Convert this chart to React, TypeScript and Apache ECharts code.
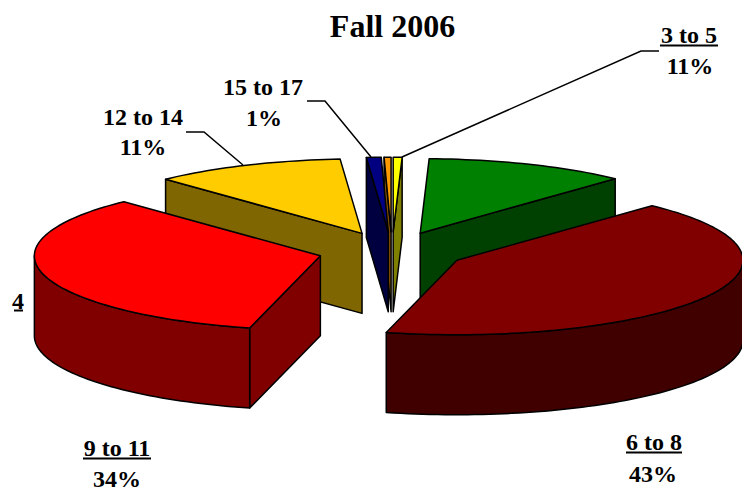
import React, { useEffect, useRef } from "react";
import * as echarts from "echarts";

// Slice shares (percent of the circle), clockwise from the top of the pie
const sliceShares = [0.5, 11.44, 42.03, 33.97, 10.83, 0.83, 0.39];
const topColors = ["#ffff00", "#008000", "#800000", "#ff0000", "#ffcc00", "#000080", "#ff9900"];
const sideColors = ["#808000", "#004000", "#400000", "#800000", "#806600", "#000040", "#804c00"];

const titleText = "Fall 2006";
const labelNames = ["3 to 5", "6 to 8", "9 to 11", "12 to 14", "15 to 17"];
const labelPercents = ["11%", "43%", "34%", "11%", "1%"];
const strayLabel = "4";

const SERIF = '"Liberation Serif", "Times New Roman", serif';
const RX = 286;
const RY = 74.5;
const DEPTH = 80;
const CX = 392;
const CY = 251;
const EXPLODE = 74;

const rad = (d: number) => (d * Math.PI) / 180;
const centerOf = (mid: number) => ({
  x: CX + EXPLODE * Math.sin(rad(mid)),
  y: CY - EXPLODE * (RY / RX) * Math.cos(rad(mid)),
});

function buildRows() {
  const total = sliceShares.reduce((a, b) => a + b, 0);
  let acc = 0;
  const rows = sliceShares.map((v, i) => {
    const start = (acc / total) * 360;
    acc += v;
    const end = (acc / total) * 360;
    return [start, end, i];
  });
  // Painter's order: back slices first
  return rows.sort(
    (a, b) => centerOf((a[0] + a[1]) / 2).y - centerOf((b[0] + b[1]) / 2).y
  );
}

function renderSlice(_params: any, api: any) {
  const start = api.value(0) as number;
  const end = api.value(1) as number;
  const idx = api.value(2) as number;
  const c = centerOf((start + end) / 2);
  const pt = (t: number, dz = 0): number[] => [
    c.x + RX * Math.sin(rad(t)),
    c.y - RY * Math.cos(rad(t)) + dz,
  ];
  const arc = (a: number, b: number, dz = 0) => {
    const n = Math.max(2, Math.ceil(Math.abs(b - a) / 1.5));
    const out: number[][] = [];
    for (let k = 0; k <= n; k++) out.push(pt(a + ((b - a) * k) / n, dz));
    return out;
  };
  const edgeStyle = { stroke: "#000", lineWidth: 1.5, lineJoin: "round" };
  const side = { ...edgeStyle, fill: sideColors[idx] };
  const poly = (points: number[][], style: any) => ({
    type: "polygon",
    shape: { points },
    style,
  });
  const children: any[] = [];
  const apex = [c.x, c.y];
  const apexLow = [c.x, c.y + DEPTH];
  const wall = (t: number) =>
    poly([apex, pt(t), pt(t, DEPTH), apexLow], side);
  if (Math.sin(rad(start)) < 0) children.push(wall(start));
  if (Math.sin(rad(end)) > 0) children.push(wall(end));
  const a = Math.max(start, 90);
  const b = Math.min(end, 270);
  if (b > a) {
    children.push(poly([...arc(a, b), ...arc(b, a, DEPTH)], side));
  }
  children.push(
    poly([apex, ...arc(start, end)], { ...edgeStyle, fill: topColors[idx] })
  );
  return { type: "group", children };
}

function textEl(text: string, x: number, baseline: number) {
  return {
    type: "text",
    x,
    y: baseline - 8,
    style: {
      text,
      fill: "#000",
      font: `bold 24px ${SERIF}`,
      lineHeight: 20,
      align: "center",
      verticalAlign: "middle",
    },
    z: 10,
  };
}
function under(x1: number, x2: number, y: number) {
  return {
    type: "line",
    shape: { x1, y1: y, x2, y2: y },
    style: { stroke: "#000", lineWidth: 2 },
    z: 10,
  };
}
function leader(points: number[][]) {
  return {
    type: "polyline",
    shape: { points },
    style: { stroke: "#000", lineWidth: 1.5, fill: "none" },
    z: 10,
  };
}

export default function App() {
  const ref = useRef<HTMLDivElement>(null);
  useEffect(() => {
    document.body.style.margin = "0";
    const chart = echarts.init(ref.current!, undefined, { renderer: "svg" });
    chart.setOption({
      animation: false,
      backgroundColor: "#fff",
      title: {
        text: titleText,
        left: 387.5,
        top: 5,
        textAlign: "center",
        textStyle: { fontFamily: SERIF, fontWeight: "bold", fontSize: 32, color: "#000" },
      },
      series: [
        {
          type: "custom",
          coordinateSystem: "none",
          silent: true,
          renderItem: renderSlice,
          data: buildRows(),
        },
      ],
      graphic: {
        elements: [
          textEl(labelNames[0], 689, 43),
          under(660, 718, 45.5),
          textEl(labelPercents[0], 690, 74),
          leader([[402, 157], [641, 51], [659, 51]]),
          textEl(labelNames[1], 654, 450),
          under(626, 682, 452.5),
          textEl(labelPercents[1], 653, 482),
          textEl(labelNames[2], 117, 456),
          under(83, 151, 458.5),
          textEl(labelPercents[2], 117, 487),
          textEl(labelNames[3], 143, 125),
          textEl(labelPercents[3], 143, 155),
          leader([[186, 132], [204, 132], [243, 165]]),
          textEl(labelNames[4], 263, 95),
          textEl(labelPercents[4], 264, 126),
          leader([[307, 101], [325, 101], [371, 157]]),
          textEl(strayLabel, 18, 309),
          under(14, 23, 310.5),
        ],
      },
    });
    return () => chart.dispose();
  }, []);
  return (
    <div
      ref={ref}
      style={{ position: "absolute", left: 0, top: 0, width: 742, height: 492, overflow: "hidden" }}
    />
  );
}
